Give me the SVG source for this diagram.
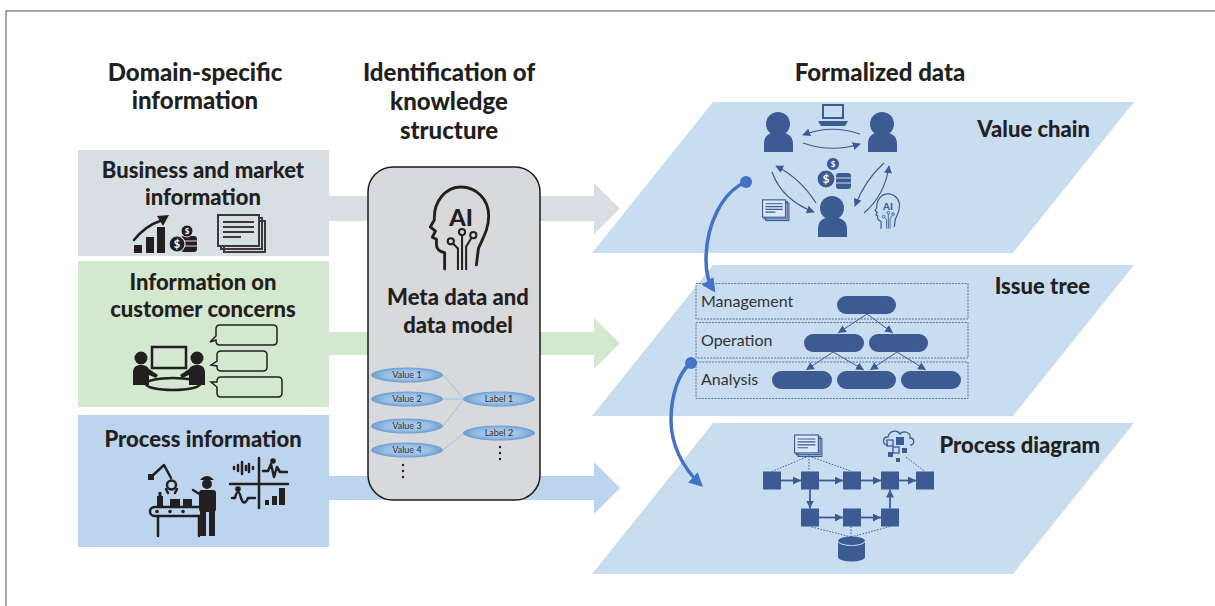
<svg xmlns="http://www.w3.org/2000/svg" width="1215" height="606" viewBox="0 0 1215 606">
  <defs>
    <style>
      text{font-family:Lato,"Liberation Sans",sans-serif;fill:#231f20}
      .hd{font-size:24px;font-weight:900;text-anchor:middle}
      .bt{font-size:22px;font-weight:900;text-anchor:middle}
      .pl{font-size:22px;font-weight:900;text-anchor:end}
      .lv{font-size:16px;fill:#333}
      .ov{font-size:9px;text-anchor:middle;fill:#333}
      .ink{fill:#231f20}
      .ln{fill:none;stroke:#231f20;stroke-width:2.5;stroke-linecap:round;stroke-linejoin:round}
      .nv{fill:#3b5b92}
      .nvs{fill:none;stroke:#3b5b92;stroke-width:1.3}
      .plane{fill:#c9ddf1}
      .conn{fill:none;stroke:#4472c4;stroke-width:3.5}
      .tier{fill:none;stroke:#5b6f94;stroke-width:1;stroke-dasharray:2 1.2}
      .dotl{fill:none;stroke:#3b5b92;stroke-width:1;stroke-dasharray:1.5 1.5}
      .link{stroke:#9dc3e6;stroke-width:1}
      .flow{stroke:#3b5b92;stroke-width:1.8;marker-end:url(#mFlow)}
      .tree{stroke:#3b5b92;stroke-width:1;marker-end:url(#mTree)}
      .vc{fill:none;stroke:#3b5b92;stroke-width:1.2;marker-end:url(#mVc)}
      .coin{font-size:9px;font-weight:700;fill:#fff;text-anchor:middle}
    </style>
    <marker id="mBlue" viewBox="0 0 10 10" refX="7" refY="5" markerWidth="4" markerHeight="4" orient="auto">
      <path d="M0,0 L10,5 L0,10 z" fill="#4472c4"/>
    </marker>
    <marker id="mFlow" viewBox="0 0 10 10" refX="10" refY="5" markerWidth="8" markerHeight="8" markerUnits="userSpaceOnUse" orient="auto">
      <path d="M0,0 L10,5 L0,10 z" fill="#3b5b92"/>
    </marker>
    <marker id="mTree" viewBox="0 0 10 10" refX="10" refY="5" markerWidth="8" markerHeight="8" markerUnits="userSpaceOnUse" orient="auto">
      <path d="M0,0 L10,5 L0,10 z" fill="#3b5b92"/>
    </marker>
    <marker id="mVc" viewBox="0 0 10 10" refX="9" refY="5" markerWidth="8" markerHeight="8" markerUnits="userSpaceOnUse" orient="auto">
      <path d="M0,0 L10,5 L0,10 z" fill="#3b5b92"/>
    </marker>
    <radialGradient id="oval" cx="50%" cy="50%" r="50%">
      <stop offset="0" stop-color="#b4d0ec"/>
      <stop offset="0.65" stop-color="#98bde4"/>
      <stop offset="1" stop-color="#6a9cd1"/>
    </radialGradient>
    <!-- head profile with "AI" and circuit traces -->
    <symbol id="aiHead" viewBox="0 0 60 84">
      <path d="M15,82 L15,66 C10,65 7,62 7,58 L7,53 L3,51 L6,45 L1,41 L5,34 C4,16 16,2 31,2 C46,2 58,14 58,30 C58,44 52,52 48,62 L46,78" fill="none" stroke="currentColor" stroke-width="2.8" stroke-linejoin="round" stroke-linecap="round"/>
      <text x="31" y="40" text-anchor="middle" style="font-family:Lato,'Liberation Sans',sans-serif;font-size:23px;font-weight:900;fill:currentColor">AI</text>
      <path d="M28,83 L28,62 L23,57 M32,83 L32,49 M36,83 L36,60 L41,52" fill="none" stroke="currentColor" stroke-width="2"/>
      <circle cx="21" cy="55" r="3" fill="none" stroke="currentColor" stroke-width="2"/>
      <circle cx="32" cy="46" r="3" fill="none" stroke="currentColor" stroke-width="2"/>
      <circle cx="43" cy="49" r="3" fill="none" stroke="currentColor" stroke-width="2"/>
    </symbol>
    <!-- stacked documents -->
    <symbol id="docs" viewBox="0 0 50 40">
      <rect x="7" y="7" width="41" height="31" fill="none" stroke="currentColor" stroke-width="2"/>
      <rect x="4" y="4" width="41" height="31" fill="none" stroke="currentColor" stroke-width="2"/>
      <rect x="1" y="1" width="41" height="31" fill="var(--bg)" stroke="currentColor" stroke-width="2"/>
      <path d="M6,8 H37 M6,13 H37 M6,18 H37 M6,23 H24" stroke="currentColor" stroke-width="2"/>
    </symbol>
  </defs>

  <!-- outer frame -->
  <g id="frame" stroke="#8c8c8c" stroke-width="1.5" fill="none">
    <path d="M6,606 V11 H1215"/>
  </g>

  <!-- column headings -->
  <g id="headings">
    <text class="hd" x="195" y="81">Domain-specific</text>
    <text class="hd" x="195" y="109">information</text>
    <text class="hd" x="449" y="81">Identification of</text>
    <text class="hd" x="449" y="110">knowledge</text>
    <text class="hd" x="449" y="139">structure</text>
    <text class="hd" x="880" y="81">Formalized data</text>
  </g>

  <!-- wide flow arrows from the source boxes -->
  <g id="connectors-flow">
    <polygon fill="#d7dfe3" points="329,196 594,196 594,183 620,208.5 594,234 594,221 329,221"/>
    <polygon fill="#d3e8cf" points="329,332 594,332 594,318 620,343.5 594,369 594,355 329,355"/>
    <polygon fill="#bcd4ee" points="329,476 594,476 594,462 620,488 594,514 594,500 329,500"/>
  </g>

  <!-- source: business and market -->
  <g id="business">
    <rect x="78" y="150" width="251" height="106" fill="#d7dfe3"/>
    <text class="bt" x="203" y="178">Business and market</text>
    <text class="bt" x="203" y="205">information</text>
    <rect class="ink" x="134" y="245" width="8" height="8"/>
    <rect class="ink" x="146" y="237" width="8" height="16"/>
    <rect class="ink" x="157" y="227" width="8" height="26"/>
    <path class="ln" d="M134,240 C142,230 151,224 160,221" stroke-width="3"/>
    <polygon class="ink" points="169,215 157,216 163,226"/>
    <rect class="ink" x="181" y="236" width="16" height="16" rx="3"/>
    <path d="M181,241 H197 M181,246 H197" stroke="#d7dfe3" stroke-width="1.2"/>
    <circle class="ink" cx="187" cy="231" r="6" stroke="#d7dfe3" stroke-width="1"/>
    <text class="coin" x="187" y="234" style="font-size:8px">$</text>
    <circle class="ink" cx="177" cy="244" r="8" stroke="#d7dfe3" stroke-width="1.2"/>
    <text class="coin" x="177" y="248" style="font-size:11px">$</text>
    <use href="#docs" x="217" y="214" width="50" height="40" style="color:#3a3a3a;--bg:#d7dfe3"/>
  </g>

  <!-- source: customer concerns -->
  <g id="customer">
    <rect x="78" y="261" width="251" height="146" fill="#d3e8cf"/>
    <text class="bt" x="203" y="290">Information on</text>
    <text class="bt" x="203" y="317">customer concerns</text>
    <rect x="152" y="347" width="34" height="21" fill="none" stroke="#231f20" stroke-width="2.5"/>
    <ellipse cx="173" cy="384" rx="27" ry="6" fill="none" stroke="#231f20" stroke-width="2.5"/>
    <circle class="ink" cx="141" cy="358" r="6.5"/>
    <path class="ink" d="M133,385 L133,373 C133,367 136,365 141,365 C145,365 147,366 149,369 L158,375 L156,378 L149,375 L149,385 Z"/>
    <circle class="ink" cx="197" cy="358" r="6.5"/>
    <path class="ink" d="M205,385 L205,373 C205,367 202,365 197,365 C193,365 191,366 189,369 L180,375 L182,378 L189,375 L189,385 Z"/>
    <path fill="none" stroke="#231f20" stroke-width="1.5" d="M220,325 H273 Q277,325 277,329 V341 Q277,345 273,345 H220 Q216,345 216,341 V340 L210,342 L216,336 V329 Q216,325 220,325 Z"/>
    <path fill="none" stroke="#231f20" stroke-width="1.5" d="M221,351 H263 Q267,351 267,355 V367 Q267,371 263,371 H221 Q217,371 217,367 V366 L211,365 L217,361 V355 Q217,351 221,351 Z"/>
    <path fill="none" stroke="#231f20" stroke-width="1.5" d="M221,377 H278 Q282,377 282,381 V393 Q282,397 278,397 H221 Q217,397 217,393 V387 L211,382 L217,382 V381 Q217,377 221,377 Z"/>
  </g>

  <!-- source: process information -->
  <g id="process-info">
    <rect x="78" y="415" width="251" height="132" fill="#bcd4ee"/>
    <text class="bt" x="203" y="447">Process information</text>
    <path class="ln" d="M151,477 L164,465 L171,478" stroke-width="4.5"/>
    <rect class="ink" x="148" y="474" width="6" height="6"/>
    <circle cx="171.5" cy="485" r="4.5" fill="none" stroke="#231f20" stroke-width="2.5"/>
    <path class="ln" d="M166,489 L168,493 M177,489 L175,493" stroke-width="2"/>
    <rect x="150" y="507" width="54" height="9" rx="4.5" fill="none" stroke="#231f20" stroke-width="2.5"/>
    <circle class="ink" cx="157" cy="511.5" r="1.8"/>
    <circle class="ink" cx="170" cy="511.5" r="1.8"/>
    <circle class="ink" cx="183" cy="511.5" r="1.8"/>
    <path class="ln" d="M158,516 V536 M199,516 V536" stroke-width="3"/>
    <rect class="ink" x="157" y="496" width="6" height="11"/>
    <rect class="ink" x="158.5" y="492" width="3" height="4"/>
    <rect class="ink" x="170" y="499" width="10" height="8"/>
    <rect class="ink" x="183" y="499" width="9" height="8"/>
    <circle class="ink" cx="207" cy="484" r="5"/>
    <path class="ink" d="M200,480 Q207,472 214,480 Z"/>
    <rect class="ink" x="199" y="490" width="17" height="22" rx="3"/>
    <rect class="ink" x="200" y="510" width="6" height="26"/>
    <rect class="ink" x="209" y="510" width="6" height="26"/>
    <path class="ln" d="M201,495 L193,490" stroke-width="3.5"/>
    <path class="ln" d="M230,484 H288 M259,458 V508" stroke-width="2"/>
    <path class="ln" d="M234,467 V469 M238,465 V471 M242,462 V474 M246,466 V470 M249,464 V472 M253,467 V469" stroke-width="1.6"/>
    <path class="ln" d="M263,471 H268 L271,464 L274,477 L277,467 L280,472 H287" stroke-width="1.6"/>
    <circle class="ink" cx="273" cy="461" r="2.8"/>
    <path class="ln" d="M232,498 H235 Q238,486 241,498 Q244,507 248,498 H255" stroke-width="1.6"/>
    <circle class="ink" cx="238" cy="489" r="2.8"/>
    <rect class="ink" x="265" y="500" width="4" height="5"/>
    <rect class="ink" x="272" y="496" width="5" height="9"/>
    <rect class="ink" x="279" y="488" width="6" height="17"/>
  </g>

  <!-- knowledge structure box -->
  <g id="knowledge">
    <rect x="368" y="167" width="172" height="333" rx="25" fill="#d8d9db" stroke="#1a1a1a" stroke-width="1.5"/>
    <use href="#aiHead" x="429" y="185" width="62" height="86" style="color:#231f20"/>
    <text class="bt" x="458" y="305">Meta data and</text>
    <text class="bt" x="458" y="333">data model</text>
    <line class="link" x1="443" y1="375" x2="464" y2="399"/>
    <line class="link" x1="443" y1="399" x2="464" y2="399"/>
    <line class="link" x1="443" y1="426" x2="464" y2="399"/>
    <line class="link" x1="443" y1="450" x2="464" y2="433"/>
    <ellipse cx="407" cy="375" rx="36" ry="7.5" fill="url(#oval)"/>
    <ellipse cx="407" cy="399" rx="36" ry="7.5" fill="url(#oval)"/>
    <ellipse cx="407" cy="426" rx="36" ry="7.5" fill="url(#oval)"/>
    <ellipse cx="407" cy="450" rx="36" ry="7.5" fill="url(#oval)"/>
    <ellipse cx="499" cy="399" rx="36" ry="7.5" fill="url(#oval)"/>
    <ellipse cx="499" cy="433" rx="36" ry="7.5" fill="url(#oval)"/>
    <text class="ov" x="407" y="378">Value 1</text>
    <text class="ov" x="407" y="402">Value 2</text>
    <text class="ov" x="407" y="429">Value 3</text>
    <text class="ov" x="407" y="453">Value 4</text>
    <text class="ov" x="499" y="402">Label 1</text>
    <text class="ov" x="499" y="436">Label 2</text>
    <circle class="ink" cx="403" cy="465" r="1.2"/>
    <circle class="ink" cx="403" cy="471" r="1.2"/>
    <circle class="ink" cx="403" cy="477" r="1.2"/>
    <circle class="ink" cx="500" cy="447" r="1.2"/>
    <circle class="ink" cx="500" cy="453" r="1.2"/>
    <circle class="ink" cx="500" cy="459" r="1.2"/>
  </g>

  <!-- plane: value chain -->
  <g id="value-chain">
    <polygon class="plane" points="713,102 1134,102 1013,253 592,253"/>
    <text class="pl" x="1090" y="137">Value chain</text>
    <circle class="nv" cx="778" cy="124" r="12"/>
    <path class="nv" d="M764,152 L764,144 C764,135 770,132 778,132 C786,132 793,135 793,144 L793,152 Z"/>
    <circle class="nv" cx="882" cy="124" r="12"/>
    <path class="nv" d="M868,152 L868,144 C868,135 874,132 882,132 C890,132 897,135 897,144 L897,152 Z"/>
    <circle class="nv" cx="832" cy="208" r="12"/>
    <path class="nv" d="M818,237 L818,229 C818,220 824,217 832,217 C840,217 847,220 847,229 L847,237 Z"/>
    <rect x="823" y="105" width="20" height="13" fill="none" stroke="#3b5b92" stroke-width="2"/>
    <polygon class="nv" points="818,121 848,121 845,126 821,126"/>
    <rect class="nv" x="836" y="173" width="15" height="16" rx="3"/>
    <path d="M836,178 H851 M836,183 H851" stroke="#c9ddf1" stroke-width="1.2"/>
    <circle class="nv" cx="833" cy="164" r="6.5" stroke="#c9ddf1" stroke-width="1"/>
    <text class="coin" x="833" y="167" style="font-size:8px">$</text>
    <circle class="nv" cx="826" cy="179" r="9" stroke="#c9ddf1" stroke-width="1.2"/>
    <text class="coin" x="826" y="183" style="font-size:12px">$</text>
    <use href="#docs" x="762" y="199" width="28" height="23" style="color:#3b5b92;--bg:#dbe8f5"/>
    <use href="#aiHead" x="874" y="193" width="27" height="36" style="color:#3b5b92"/>
    <path class="vc" d="M860,134 Q831,124 803,135"/>
    <path class="vc" d="M803,143 Q831,153 860,144"/>
    <path class="vc" d="M772,172 Q782,200 814,212"/>
    <path class="vc" d="M816,203 Q800,178 776,166"/>
    <path class="vc" d="M884,163 Q865,180 855,206"/>
    <path class="vc" d="M864,213 Q885,195 889,166"/>
  </g>

  <!-- plane: issue tree -->
  <g id="issue-tree">
    <polygon class="plane" points="713,265 1134,265 1013,416 592,416"/>
    <text class="pl" x="1090" y="294">Issue tree</text>
    <rect class="tier" x="696" y="283.5" width="272" height="35.5"/>
    <rect class="tier" x="696" y="322.5" width="272" height="35.5"/>
    <rect class="tier" x="696" y="362" width="272" height="36.5"/>
    <text class="lv" x="701" y="307">Management</text>
    <text class="lv" x="701" y="346">Operation</text>
    <text class="lv" x="701" y="385">Analysis</text>
    <rect class="nv" x="837" y="296" width="59" height="18" rx="9"/>
    <rect class="nv" x="804" y="334" width="60" height="18" rx="9"/>
    <rect class="nv" x="869" y="334" width="59" height="18" rx="9"/>
    <rect class="nv" x="772" y="371" width="60" height="18" rx="9"/>
    <rect class="nv" x="837" y="371" width="59" height="18" rx="9"/>
    <rect class="nv" x="901" y="371" width="60" height="18" rx="9"/>
    <line class="tree" x1="867" y1="314" x2="838" y2="333"/>
    <line class="tree" x1="867" y1="314" x2="893" y2="333"/>
    <line class="tree" x1="833" y1="352" x2="806" y2="370"/>
    <line class="tree" x1="833" y1="352" x2="864" y2="370"/>
    <line class="tree" x1="897" y1="352" x2="870" y2="370"/>
    <line class="tree" x1="897" y1="352" x2="926" y2="370"/>
  </g>

  <!-- plane: process diagram -->
  <g id="process-diagram">
    <polygon class="plane" points="713,423 1134,423 1013,574 592,574"/>
    <text class="pl" x="1100" y="453">Process diagram</text>
    <path class="dotl" d="M809,456 L772,471.5 M809,456 V471.5 M809,456 L852,471.5 M906,457 L925,471.5 M851,537 L810,526.5 M851,537 V526.5 M851,537 L890,526.5"/>
    <use href="#docs" x="794" y="434" width="29" height="24" style="color:#3b5b92;--bg:#dbe8f5"/>
    <path class="nvs" d="M888,445 C882,445 882,437 888,437 C889,431 897,429 900,434 C903,430 911,432 910,438 C915,438 915,445 910,445"/>
    <rect class="nv" x="896" y="437" width="8" height="8"/>
    <rect class="nvs" x="887" y="440" width="6" height="6" fill="#c9ddf1"/>
    <rect class="nvs" x="893" y="447" width="6" height="6" fill="#c9ddf1"/>
    <rect class="nv" x="888" y="452" width="5" height="5"/>
    <rect class="nv" x="902" y="448" width="5" height="5"/>
    <rect class="nv" x="896" y="458" width="4" height="4"/>
    <path class="nv" d="M838,541 V557 A13.5,4.5 0 0 0 865,557 V541 A13.5,4.5 0 0 0 838,541 Z"/>
    <path d="M838,541 A13.5,4.5 0 0 0 865,541" fill="none" stroke="#c9ddf1" stroke-width="1"/>
    <rect class="nv" x="763" y="471.5" width="18" height="18"/>
    <rect class="nv" x="801" y="471.5" width="18" height="18"/>
    <rect class="nv" x="843" y="471.5" width="18" height="18"/>
    <rect class="nv" x="881" y="471.5" width="18" height="18"/>
    <rect class="nv" x="916" y="471.5" width="18" height="18"/>
    <rect class="nv" x="801" y="508.5" width="18" height="18"/>
    <rect class="nv" x="843" y="508.5" width="18" height="18"/>
    <rect class="nv" x="881" y="508.5" width="18" height="18"/>
    <line class="flow" x1="781" y1="480.5" x2="801" y2="480.5"/>
    <line class="flow" x1="819" y1="480.5" x2="843" y2="480.5"/>
    <line class="flow" x1="861" y1="480.5" x2="881" y2="480.5"/>
    <line class="flow" x1="899" y1="480.5" x2="916" y2="480.5"/>
    <line class="flow" x1="810" y1="489.5" x2="810" y2="508.5"/>
    <line class="flow" x1="819" y1="517.5" x2="843" y2="517.5"/>
    <line class="flow" x1="861" y1="517.5" x2="881" y2="517.5"/>
    <line class="flow" x1="890" y1="508.5" x2="890" y2="489.5"/>
  </g>

  <!-- links between the planes -->
  <g id="connectors-planes">
    <path class="conn" d="M746,182 C722,192 706,225 706,260 C706,274 709,283 713,289" marker-end="url(#mBlue)"/>
    <circle cx="746" cy="182" r="6" fill="#4472c4"/>
    <path class="conn" d="M691,363 C679,372 671,395 671,420 C671,445 683,468 700,484" marker-end="url(#mBlue)"/>
    <circle cx="691" cy="363" r="6" fill="#4472c4"/>
  </g>
</svg>
